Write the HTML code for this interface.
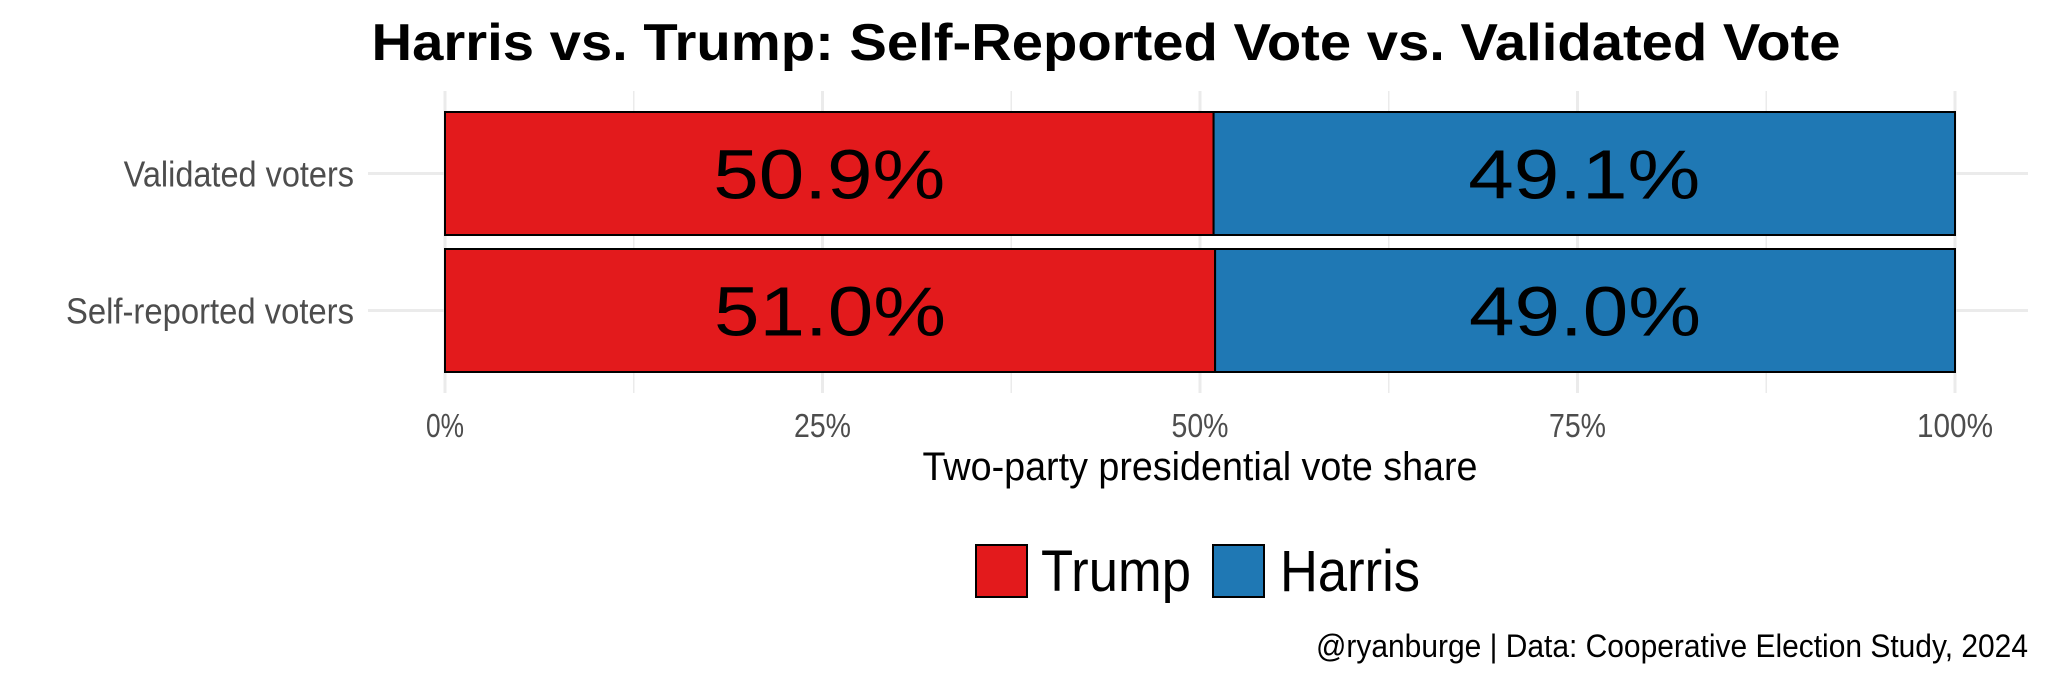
<!DOCTYPE html>
<html><head><meta charset="utf-8"><style>
html,body{margin:0;padding:0;background:#fff;}
svg{display:block;font-family:"Liberation Sans Narrow","Liberation Sans",sans-serif;}
</style></head><body>
<svg id="chart" width="2048" height="683" viewBox="0 0 2048 683" xmlns="http://www.w3.org/2000/svg">
<text x="1106" y="60" text-anchor="middle" font-size="52" font-weight="bold" textLength="1469" lengthAdjust="spacingAndGlyphs">Harris vs. Trump: Self-Reported Vote vs. Validated Vote</text>
<g id="grid"></g>
<g id="bars"></g>
<g id="labels"></g>
<text x="1200" y="480" text-anchor="middle" font-size="40" fill="#000" textLength="555" lengthAdjust="spacingAndGlyphs">Two-party presidential vote share</text>
<g>
<rect x="976" y="545" width="51" height="52" fill="#e31a1c" stroke="#000" stroke-width="2"/>
<text x="1041" y="591" font-size="58" textLength="150" lengthAdjust="spacingAndGlyphs">Trump</text>
<rect x="1213" y="545" width="51" height="52" fill="#1f78b4" stroke="#000" stroke-width="2"/>
<text x="1280" y="591" font-size="58" textLength="140" lengthAdjust="spacingAndGlyphs">Harris</text>
</g>
<text x="2028" y="657" text-anchor="end" font-size="32" textLength="712" lengthAdjust="spacingAndGlyphs">@ryanburge | Data: Cooperative Election Study, 2024</text>
</svg>
<script>
const categories = ["Validated voters", "Self-reported voters"];
const trumpValues = [50.9, 51.0];
const harrisValues = [49.1, 49.0];
const tickValues = [0, 25, 50, 75, 100];
const tickLabels = ["0%", "25%", "50%", "75%", "100%"];

const NS = "http://www.w3.org/2000/svg";
const x0 = 445, x1 = 1955;
const xScale = v => x0 + (x1 - x0) * v / 100;
const bandTop = [112, 249], bandH = 123;
const yCenter = i => bandTop[i] + bandH / 2;
function mk(tag, attrs, parent) {
  const e = document.createElementNS(NS, tag);
  for (const k in attrs) e.setAttribute(k, attrs[k]);
  parent.appendChild(e);
  return e;
}
const grid = document.getElementById('grid');
const bars = document.getElementById('bars');
const labels = document.getElementById('labels');
for (let v = 12.5; v < 100; v += 25) {
  const l = mk('line', {x1: xScale(v), x2: xScale(v), y1: 91, y2: 393, stroke: '#ebebeb', 'stroke-width': 1.5}, grid);
  
  
}
tickValues.forEach((v, i) => {
  const l = mk('line', {x1: xScale(v), x2: xScale(v), y1: 91, y2: 393, stroke: '#ebebeb', 'stroke-width': 3}, grid);
  
  
  const w = tickLabels[i].length * 19;
  const t = mk('text', {x: xScale(v), y: 437, 'text-anchor': 'middle', 'font-size': 33, fill: '#4d4d4d', textLength: w, lengthAdjust: 'spacingAndGlyphs'}, labels);
  t.textContent = tickLabels[i];
  
  
});
categories.forEach((c, i) => {
  const gl = mk('line', {x1: 368, x2: 2028, y1: yCenter(i), y2: yCenter(i), stroke: '#ebebeb', 'stroke-width': 3}, grid);
  
  
  const t = mk('text', {x: 354, y: yCenter(i) + 13, 'text-anchor': 'end', 'font-size': 36, fill: '#4d4d4d', textLength: c.length * 14.4, lengthAdjust: 'spacingAndGlyphs'}, labels);
  t.textContent = c;
  
  
  const tv = trumpValues[i], hv = harrisValues[i];
  const r1 = mk('rect', {x: xScale(0), y: bandTop[i], width: xScale(tv) - xScale(0), height: bandH, fill: '#e31a1c', stroke: '#000', 'stroke-width': 2}, bars);
  
  
  const r2 = mk('rect', {x: xScale(tv), y: bandTop[i], width: xScale(tv + hv) - xScale(tv), height: bandH, fill: '#1f78b4', stroke: '#000', 'stroke-width': 2}, bars);
  
  
  const l1 = mk('text', {x: (xScale(0) + xScale(tv)) / 2, y: yCenter(i) + 25, 'text-anchor': 'middle', 'font-size': 70, textLength: 232, lengthAdjust: 'spacingAndGlyphs'}, labels);
  l1.textContent = tv.toFixed(1) + '%';
  
  
  const l2 = mk('text', {x: (xScale(tv) + xScale(tv + hv)) / 2, y: yCenter(i) + 25, 'text-anchor': 'middle', 'font-size': 70, textLength: 232, lengthAdjust: 'spacingAndGlyphs'}, labels);
  l2.textContent = hv.toFixed(1) + '%';
  
  
});
</script>
</body></html>
